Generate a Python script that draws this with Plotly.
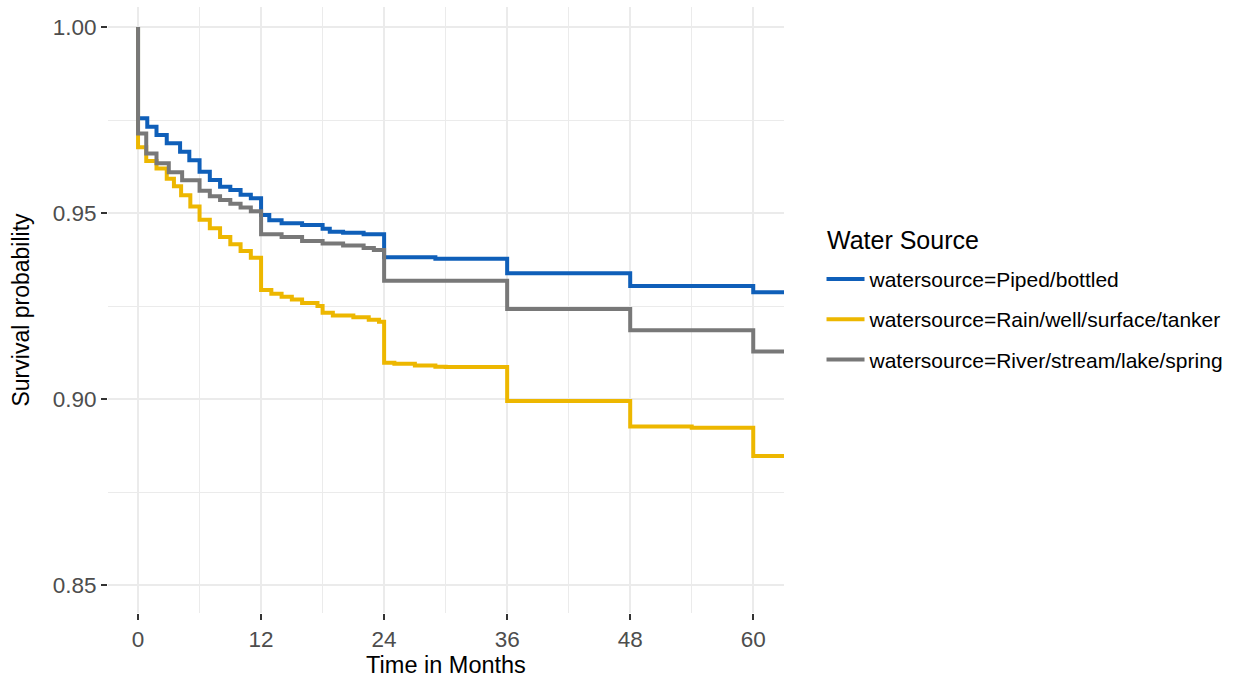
import plotly.graph_objects as go

# ---------------- data (Kaplan-Meier step estimates) ----------------
series_names = [
    "watersource=Piped/bottled",
    "watersource=Rain/well/surface/tanker",
    "watersource=River/stream/lake/spring",
]
series_colors = ["#0F5FB9", "#EDB700", "#787878"]

piped_time = [0, 0, 0.9, 1.8, 2.8, 4.1, 5.0, 6.0, 7.0, 8.0, 9.0, 10.0, 11.0,
              12.0, 12.8, 14.0, 16.0, 18.0, 18.7, 20.0, 22.0, 24.0, 29.0,
              36.0, 48.0, 60.0, 63.0]
piped_surv = [1.0, 0.9755, 0.9732, 0.9710, 0.9688, 0.9665, 0.9642, 0.9611,
              0.9589, 0.9571, 0.9562, 0.9549, 0.9540, 0.9495, 0.9481, 0.9473,
              0.9468, 0.9458, 0.9450, 0.9447, 0.9443, 0.9381, 0.9377, 0.9338,
              0.9304, 0.9287, 0.9287]

rain_time = [0, 0, 0.8, 1.8, 2.8, 3.5, 4.2, 5.1, 6.0, 7.0, 8.0, 9.0, 10.0,
             11.0, 12.0, 13.0, 14.0, 15.0, 16.0, 17.5, 18.0, 19.0, 21.0,
             22.5, 23.5, 24.0, 25.0, 27.0, 29.0, 30.0, 36.0, 48.0, 54.0,
             60.0, 63.0]
rain_surv = [1.0, 0.9677, 0.9640, 0.9620, 0.9592, 0.9572, 0.9548, 0.9518,
             0.9482, 0.9459, 0.9436, 0.9416, 0.9398, 0.9380, 0.9293, 0.9283,
             0.9275, 0.9268, 0.9258, 0.9250, 0.9232, 0.9225, 0.9220, 0.9213,
             0.9208, 0.9098, 0.9095, 0.9090, 0.9087, 0.9086, 0.8995, 0.8926,
             0.8923, 0.8847, 0.8847]

river_time = [0, 0, 0.8, 1.8, 3.0, 4.3, 6.0, 7.0, 8.0, 9.0, 10.0, 11.0,
              12.0, 14.0, 16.0, 18.0, 20.0, 22.0, 23.0, 24.0, 36.0, 48.0,
              60.0, 63.0]
river_surv = [1.0, 0.9714, 0.9660, 0.9634, 0.9610, 0.9588, 0.9560, 0.9545,
              0.9535, 0.9525, 0.9515, 0.9505, 0.9443, 0.9436, 0.9425, 0.9418,
              0.9413, 0.9406, 0.9401, 0.9318, 0.9242, 0.9185, 0.9128, 0.9128]

x_ticks = [0, 12, 24, 36, 48, 60]
y_ticks = [0.85, 0.90, 0.95, 1.00]
y_tick_labels = ["0.85", "0.90", "0.95", "1.00"]

x_title = "Time in Months"
y_title = "Survival probability"
legend_title = "Water Source"

# ---------------- figure ----------------
FONT = "Liberation Sans, Arial, Helvetica, sans-serif"
GRID = "#EBEBEB"

fig = go.Figure()
for i, (t, s) in enumerate([(piped_time, piped_surv),
                            (rain_time, rain_surv),
                            (river_time, river_surv)]):
    fig.add_trace(go.Scatter(
        x=t, y=s, mode="lines", name=series_names[i],
        line=dict(color=series_colors[i], width=4, shape="hv"),
        legendgroup=str(i), hoverinfo="skip",
    ))

fig.update_layout(
    width=1238, height=682,
    margin=dict(l=108, r=454, t=7, b=69, autoexpand=False),
    paper_bgcolor="white", plot_bgcolor="white",
    font=dict(family=FONT, color="black"),
    showlegend=True,
    legend=dict(
        font=dict(size=21, color="black"),
        x=1.0555, xanchor="left", y=0.5846, yanchor="top",
        traceorder="grouped", tracegroupgap=10,
        bgcolor="rgba(0,0,0,0)", itemwidth=38,
    ),
    annotations=[dict(
        text=legend_title, xref="paper", yref="paper",
        x=(825 - 108) / 676, y=(613 - 240) / 606,
        xanchor="left", yanchor="middle", showarrow=False,
        font=dict(size=25, color="black"),
    )],
)

fig.update_xaxes(
    range=[-2.93, 63.0], tickvals=x_ticks, ticktext=[str(v) for v in x_ticks],
    showgrid=True, gridcolor=GRID, gridwidth=2,
    minor=dict(dtick=6, tick0=0, showgrid=True, gridcolor=GRID, gridwidth=1,
               ticklen=0),
    zeroline=False, showline=False,
    ticks="outside", ticklen=6, tickwidth=2, tickcolor="#333333",
    tickfont=dict(size=22.5, color="#4D4D4D"),
    title=dict(text=x_title, font=dict(size=23.5, color="black"), standoff=4),
    automargin=False,
)
fig.update_yaxes(
    range=[0.8425, 1.0054], tickvals=y_ticks, ticktext=y_tick_labels,
    showgrid=True, gridcolor=GRID, gridwidth=2,
    minor=dict(dtick=0.025, tick0=0.85, showgrid=True, gridcolor=GRID,
               gridwidth=1, ticklen=0),
    zeroline=False, showline=False,
    ticks="outside", ticklen=6, tickwidth=2, tickcolor="#333333",
    tickfont=dict(size=22.5, color="#4D4D4D"),
    title=dict(text=y_title, font=dict(size=23, color="black"), standoff=16),
    automargin=False,
)

fig.write_html("out.html")
